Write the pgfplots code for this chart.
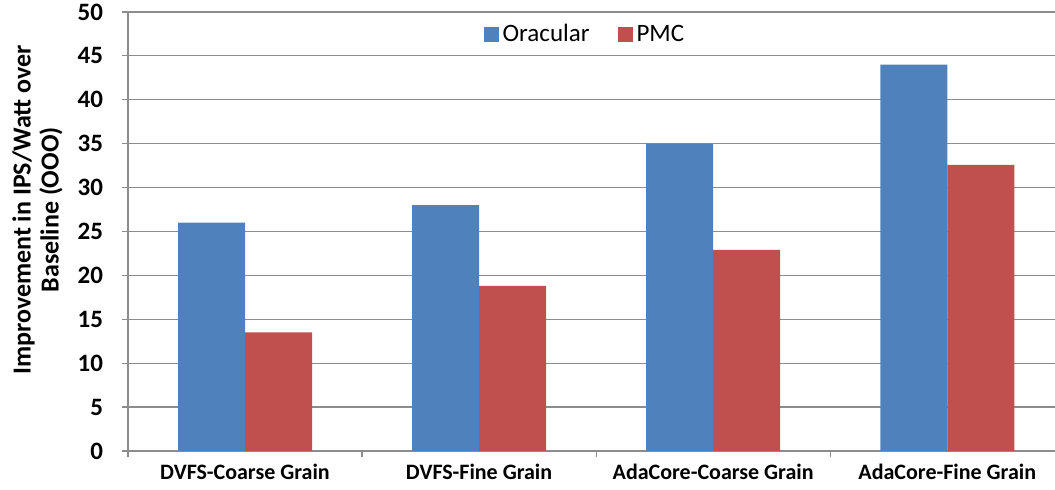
\documentclass[border=0pt]{standalone}
\usepackage{fontspec}
\setmainfont{Carlito}
\usepackage{pgfplots}
\pgfplotsset{compat=1.18}
\definecolor{oracBlue}{HTML}{4F81BD}
\definecolor{pmcRed}{HTML}{C0504D}
\definecolor{gridGray}{HTML}{8C8C8C}

\begin{document}
\begin{tikzpicture}
\begin{axis}[
    scale only axis,
    width=463.5pt, height=219.5pt,
    ybar=0pt, bar width=33.5pt,
    xmin=-0.5, xmax=3.46,
    ymin=0, ymax=50,
    ytick={0,5,...,50},
    xtick={-0.5,0.5,1.5,2.5},
    xticklabels={DVFS-Coarse Grain, DVFS-Fine Grain, AdaCore-Coarse Grain, AdaCore-Fine Grain},
    xticklabel style={xshift=58.5pt, font=\fontsize{11}{13}\selectfont\bfseries},
    yticklabel style={font=\fontsize{12.5}{14}\selectfont\bfseries},
    yticklabel shift=6pt,
    /pgf/number format/assume math mode=true,
    tick align=outside,
    major tick length=3pt,
    axis x line*=bottom, axis y line*=left,
    axis line style={draw=gridGray, line width=0.6pt, -},
    tick style={draw=gridGray, line width=0.6pt},
    ymajorgrids, grid style={draw=gridGray, line width=0.6pt},
    ylabel={Improvement in IPS/Watt over\\Baseline (OOO)},
    ylabel style={at={(axis description cs:-0.0976,0.549)}, anchor=center,
        align=center, font=\fontsize{13}{14}\selectfont\bfseries},
    legend style={draw=none, fill=none, at={(0.494,0.948)}, anchor=center,
        legend columns=-1, font=\fontsize{12.5}{15}\selectfont,
        /tikz/every even column/.append style={column sep=12pt}},
]

\addplot[fill=oracBlue, draw=none,
    legend image code/.code={\fill[oracBlue] (0pt,-3.75pt) rectangle (7.5pt,3.75pt);}]
coordinates {(0,26)(1,28)(2,35)(3,44)};

\addplot[fill=pmcRed, draw=none,
    legend image code/.code={\fill[pmcRed] (0pt,-3.75pt) rectangle (7.5pt,3.75pt);}]
coordinates {(0,13.5)(1,18.8)(2,22.9)(3,32.6)};

\legend{Oracular, PMC}
\end{axis}
\pgfresetboundingbox
\path[use as bounding box] (-64pt,-19.5pt) rectangle (463.5pt,225.5pt);
\end{tikzpicture}
\end{document}
